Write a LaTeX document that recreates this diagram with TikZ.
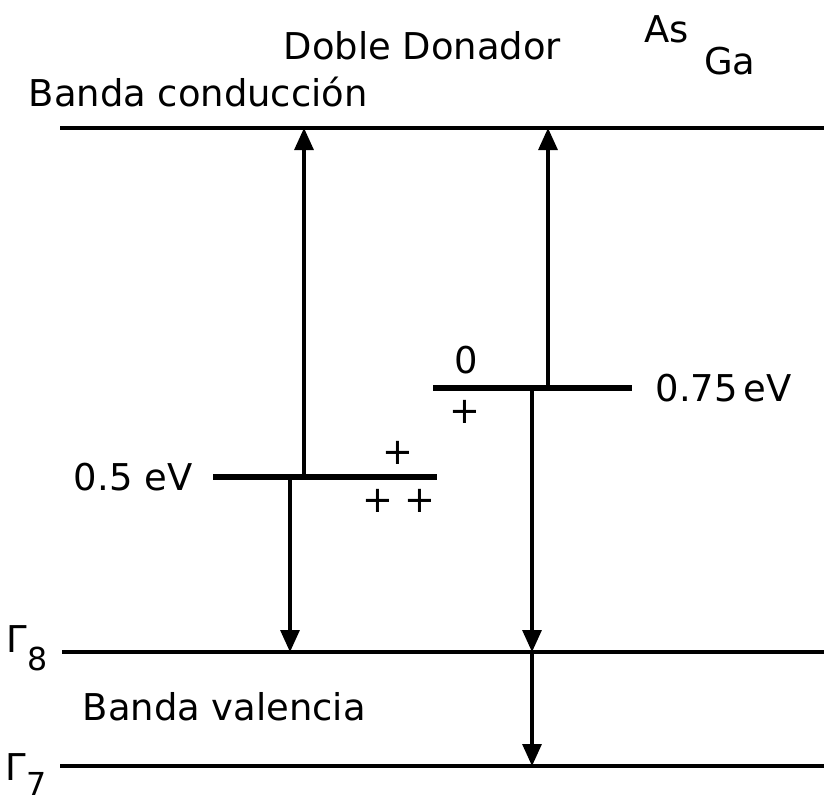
\documentclass[tikz,border=0pt]{standalone}
\usepackage{fontspec}
\setmainfont{DejaVu Sans}
\usetikzlibrary{arrows.meta}

\begin{document}
\begin{tikzpicture}[x=1cm,y=1cm,
  every node/.style={font=\fontsize{10.5}{12}\selectfont,inner sep=0pt},
  band/.style={line width=1.3pt},
  level/.style={line width=1.7pt},
  trans/.style={line width=0.9pt,-{Triangle[length=2.2mm,width=1.9mm]}}]
  \useasboundingbox (0,0) rectangle (8.24,7.99);
  % bands and levels
  \coordinate (r) at (8.24,0);
  \coordinate (cb) at (0.60,6.71);
  \coordinate (g8) at (0.62,1.47);
  \coordinate (g7) at (0.60,0.33);
  \coordinate (aw) at (2.13,3.22);
  \coordinate (ae) at (4.37,3.22);
  \coordinate (bw) at (4.33,4.11);
  \coordinate (be) at (6.32,4.11);
  \draw[band] (cb) -- (cb -| r);
  \draw[band] (g8) -- (g8 -| r);
  \draw[band] (g7) -- (g7 -| r);
  \draw[level] (aw) -- (ae);
  \draw[level] (bw) -- (be);
  % transitions
  \coordinate (c1) at (3.04,0);
  \coordinate (c2) at (2.90,0);
  \coordinate (c3) at (5.48,0);
  \coordinate (c4) at (5.32,0);
  \draw[trans] (c1 |- aw) -- (c1 |- cb);
  \draw[trans] (c2 |- aw) -- (c2 |- g8);
  \draw[trans] (c3 |- bw) -- (c3 |- cb);
  \draw[trans] (c4 |- bw) -- (c4 |- g8);
  \draw[trans] (c4 |- g8) -- (c4 |- g7);
  % labels
  \node[anchor=base west] (cbl) at (0.28,6.92) {Banda conducción};
  \node[anchor=base west] (dd) at (2.83,7.39) {Doble Donador};
  \node[anchor=base west] (asga) at (6.44,7.56) {As\hspace{0.15cm}\raisebox{-0.32cm}{Ga}};
  \node[anchor=east] (la) at ([xshift=-0.2cm]aw) {0.5 eV};
  \node[anchor=west] (lb) at ([xshift=0.23cm]be) {0.75\,eV};
  \node (z) at (4.66,4.39) {0};
  \node (pb) at (4.65,3.87) {+};
  \node (pa) at (3.98,3.46) {+};
  \node (ppa) at (3.99,2.98) {+ +};
  \node[anchor=base east] (lg8) at ([xshift=-0.14cm]g8) {Γ\raisebox{-0.18cm}{\small 8}};
  \node[anchor=base east] (lg7) at ([xshift=-0.13cm,yshift=-0.14cm]g7) {Γ\raisebox{-0.15cm}{\small 7}};
  \node[anchor=base west] (bvl) at (0.82,0.79) {Banda valencia};
\end{tikzpicture}
\end{document}
